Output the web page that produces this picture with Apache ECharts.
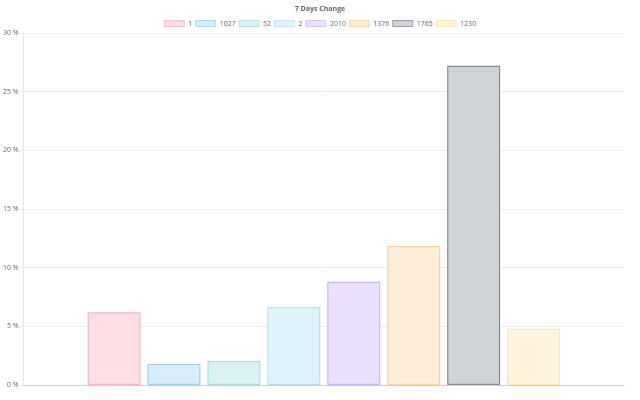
<!DOCTYPE html>
<html>
<head>
<meta charset="utf-8">
<script src="https://cdn.jsdelivr.net/npm/echarts@6/dist/echarts.min.js"></script>
<style>html,body{margin:0;padding:0;background:#fff}#c{width:640px;height:400px}</style>
</head>
<body>
<div id="c"></div>
<script>
var categories = [''];
var seriesNames = ['1', '1027', '52', '2', '2010', '1376', '1765', '1230'];
var seriesValues = [6.2, 1.8, 2.05, 6.65, 8.8, 11.85, 27.2, 4.8];
var yTicks = [0, 5, 10, 15, 20, 25, 30];
var fills = ['#ffdee5', '#d8ecfb', '#dbf2f2', '#e1f3fa', '#ebe0ff', '#ffecd9', '#d0d4d8', '#fff5dd'];
var borders = ['#ffb1c1', '#9ad0f5', '#a5dfdf', '#b4e1f0', '#ccb2ff', '#ffcf9f', '#858a94', '#ffe6aa'];

var series = seriesNames.map(function (n, i) {
  return {
    name: n,
    type: 'bar',
    data: [seriesValues[i]],
    barCategoryGap: '21.3%',
    barGap: '13.2%',
    itemStyle: { color: fills[i], borderColor: borders[i], borderWidth: 1.2 },
    emphasis: { disabled: true }
  };
});

var chart = echarts.init(document.getElementById('c'), null, { renderer: 'canvas' });
chart.setOption({
  animation: false,
  backgroundColor: '#fff',
  title: {
    text: '7 Days Change', left: 'center', top: 0,
    textStyle: { fontSize: 7, fontWeight: 'bold', color: '#666', fontFamily: 'Open Sans' }
  },
  legend: {
    top: 15, left: 'center', icon: 'rect', itemWidth: 20, itemHeight: 6, itemGap: 3,
    itemStyle: { borderWidth: 0.8 },
    textStyle: { fontSize: 7, color: '#666', fontFamily: 'Open Sans', padding: [0, 0, 0, -1] },
    data: seriesNames
  },
  grid: { left: 23, right: 16, top: 33, bottom: 15, containLabel: false },
  xAxis: {
    type: 'category', data: categories,
    axisLine: { show: true, lineStyle: { color: '#d0d0d0', width: 1 } },
    axisTick: { show: false }, axisLabel: { show: false }, splitLine: { show: false }
  },
  yAxis: {
    type: 'value', min: yTicks[0], max: yTicks[yTicks.length - 1], interval: 5,
    axisLine: { show: true, lineStyle: { color: '#e6e6e6' } },
    axisTick: { show: true, length: 4, lineStyle: { color: '#e6e6e6' } },
    axisLabel: { formatter: '{value} %', fontSize: 7, color: '#666', margin: 5, fontFamily: 'Open Sans' },
    splitLine: { show: true, lineStyle: { color: '#ececec' } }
  },
  series: series
});
</script>
</body>
</html>
